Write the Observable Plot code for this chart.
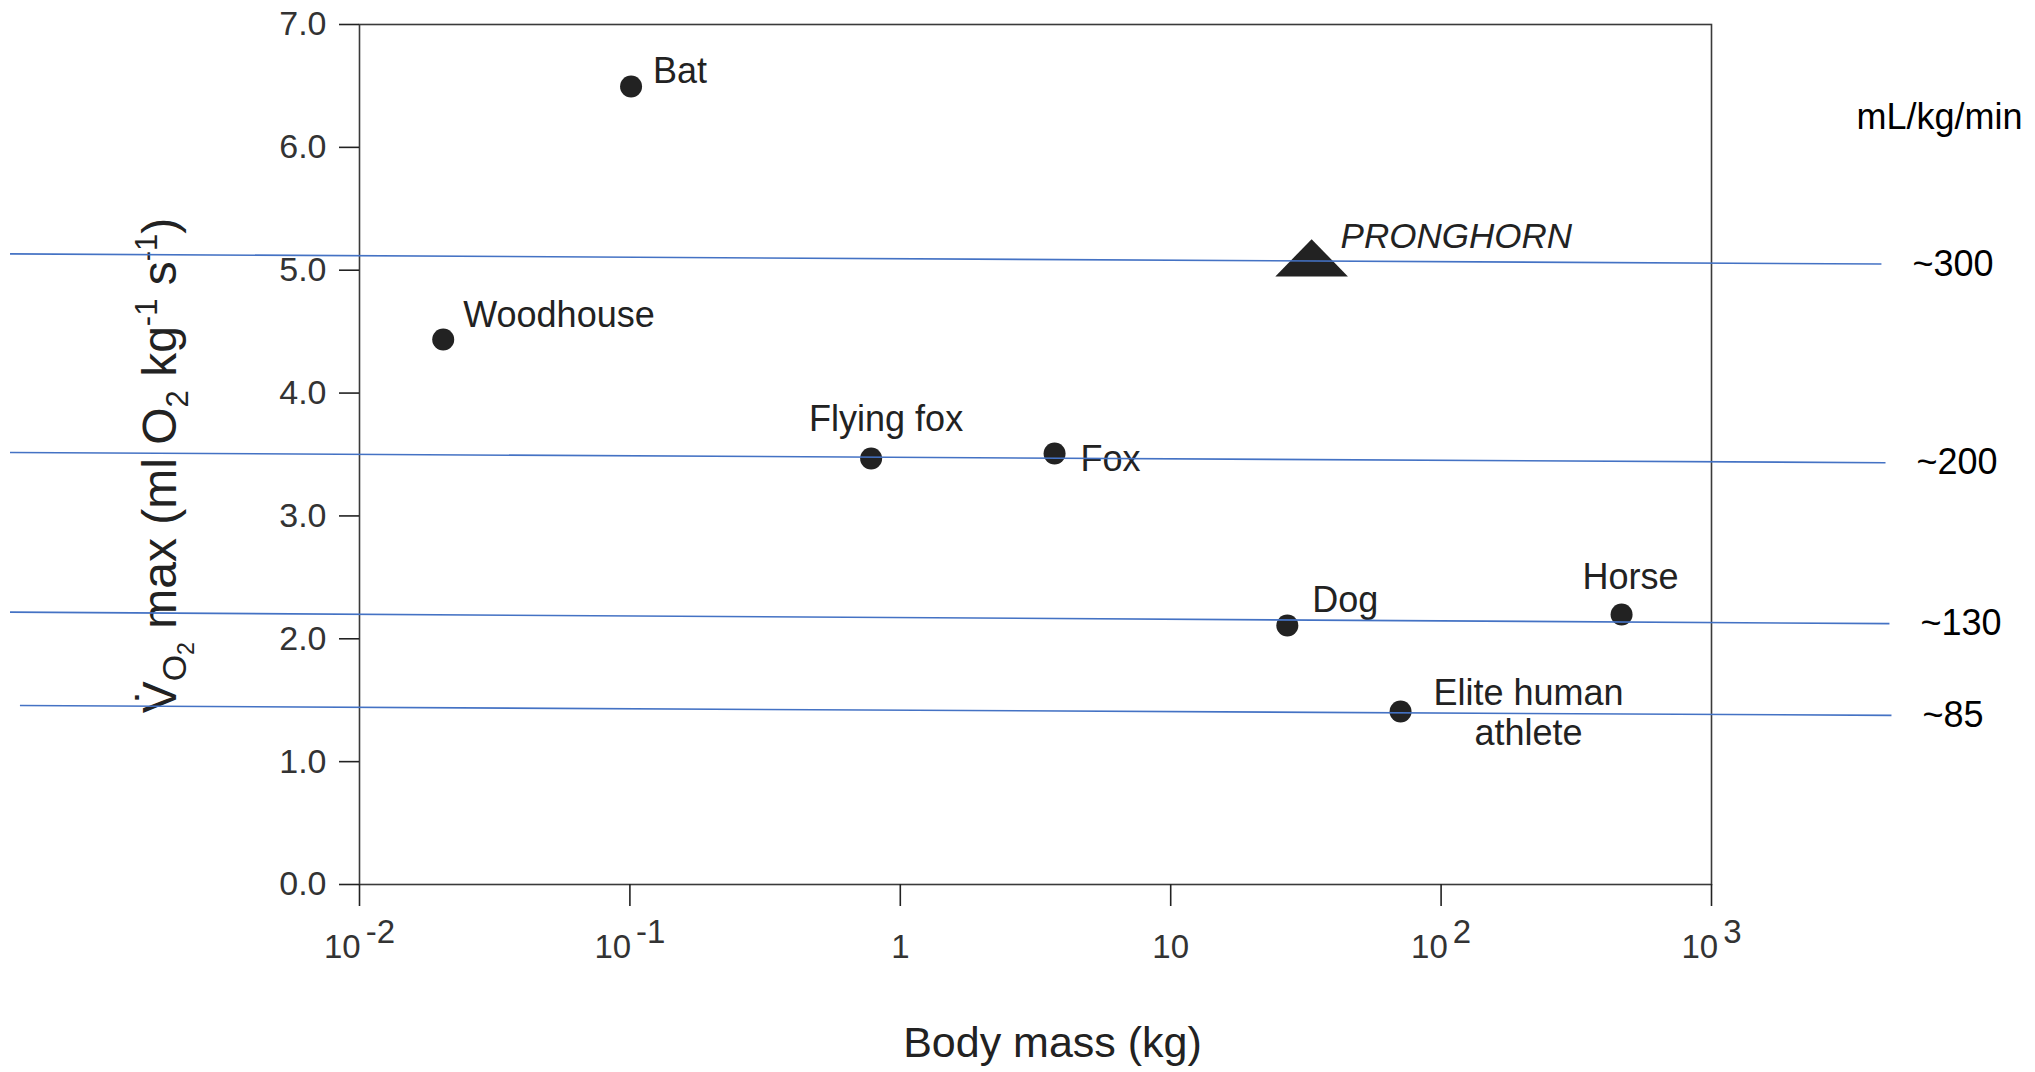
<!DOCTYPE html>
<html>
<head>
<meta charset="utf-8">
<script src="https://cdn.jsdelivr.net/npm/d3@7"></script>
<script src="https://cdn.jsdelivr.net/npm/@observablehq/plot@0.6"></script>
<style>
  html, body { margin: 0; padding: 0; background: #fff; }
  #chart svg { display: block; }
</style>
</head>
<body>
<div id="chart"></div>
<script>
// Maximal oxygen uptake (VO2 max) against body mass, log mass axis

// --- data -------------------------------------------------------------
const species = ["Bat", "Woodhouse", "Flying fox", "Fox", "Dog", "Horse", "Elite human\nathlete"];
const bodyMassKg = [0.101, 0.0204, 0.78, 3.72, 27.0, 465, 70.8];
const vo2maxMlKgS = [6.495, 4.436, 3.467, 3.508, 2.108, 2.198, 1.408];

const pronghornName = "PRONGHORN";
const pronghornMassKg = 33.2;
const pronghornVo2max = 5.05;

const massTicks = [0.01, 0.1, 1, 10, 100, 1000];
const massTickLabels = ["10^-2", "10^-1", "1", "10", "10^2", "10^3"];
const vo2Ticks = [0, 1, 2, 3, 4, 5, 6, 7];

// Hand-drawn reference levels, in mL/kg/min, with the mass span they cover
const refLabels = ["~300", "~200", "~130", "~85"];
const refStartPerMin = [308, 211, 133, 87.4];
const refEndPerMin = [303, 206, 127.4, 82.6];
const refStartMass = [5.1e-4, 5.1e-4, 5.1e-4, 5.55e-4];
const refEndMass = [4250, 4400, 4550, 4630];
const refUnit = "mL/kg/min";

const xLabel = "Body mass (kg)";
const yLabelKey = "VO2 max (ml O2 kg-1 s-1)";

// --- tables built from the arrays -------------------------------------
const animals = species.map((name, i) => ({name, mass: bodyMassKg[i], vo2: vo2maxMlKgS[i]}));
const pronghorn = [{name: pronghornName, mass: pronghornMassKg, vo2: pronghornVo2max}];
const refs = refLabels.map((label, i) => ({
  label,
  start: refStartPerMin[i] / 60,
  end: refEndPerMin[i] / 60,
  x1: refStartMass[i],
  x2: refEndMass[i]
}));

// --- styling ----------------------------------------------------------
const FONT = "'Liberation Sans', Arial, Helvetica, sans-serif";
const INK = "#222";
const BLUE = "#4472C4";

// label offsets (px) relative to each point
const labelPlacement = {
  "Bat": {textAnchor: "start", dx: 22, dy: -4},
  "Woodhouse": {textAnchor: "start", dx: 20, dy: -13},
  "Flying fox": {textAnchor: "middle", dx: 15, dy: -28},
  "Fox": {textAnchor: "start", dx: 26, dy: 17},
  "Dog": {textAnchor: "start", dx: 25, dy: -14},
  "Horse": {textAnchor: "middle", dx: 9, dy: -25},
  "Elite human\nathlete": {textAnchor: "middle", dx: 128, dy: 33}
};

// flattened triangle marker
const wideTriangle = {
  draw(context, size) {
    const r = Math.sqrt(size / Math.PI);
    const hw = r * 3.3, h = r * 3.4;
    context.moveTo(0, -h * 2 / 3);
    context.lineTo(hw, h / 3);
    context.lineTo(-hw, h / 3);
    context.closePath();
  }
};

const labelMarks = animals.map(d => {
  const p = labelPlacement[d.name];
  return Plot.text([d], {
    x: "mass", y: "vo2", text: "name",
    textAnchor: p.textAnchor, lineAnchor: "bottom", lineHeight: 1.1,
    dx: p.dx, dy: p.dy, fontSize: 36, fill: INK
  });
});

const chart = Plot.plot({
  width: 2035,
  height: 1072,
  marginLeft: 359,
  marginRight: 324,
  marginTop: 24,
  marginBottom: 188,
  style: {fontFamily: FONT, color: INK, background: "#fff", overflow: "visible"},
  x: {type: "log", domain: [0.01, 1000]},
  y: {domain: [0, 7]},
  marks: [
    Plot.frame({stroke: "#3a3a3a", strokeWidth: 1.6}),
    Plot.axisY({
      ticks: vo2Ticks, tickFormat: d3.format(".1f"),
      tickSize: 20, tickPadding: 13, fontSize: 34, label: null,
      stroke: INK, strokeWidth: 1.6, fill: "#333"
    }),
    Plot.axisX({
      ticks: massTicks, tickFormat: d => massTickLabels[massTicks.indexOf(d)],
      tickSize: 22, tickPadding: 28, fontSize: 33, label: null,
      stroke: INK, strokeWidth: 1.6, fill: "#333"
    }),
    Plot.text([xLabel], {
      text: d => d, frameAnchor: "bottom", lineAnchor: "bottom",
      dx: 17, dy: 172, fontSize: 43, fill: INK
    }),
    Plot.text([yLabelKey], {
      text: d => d, frameAnchor: "left", rotate: -90,
      textAnchor: "middle", lineAnchor: "bottom",
      dx: -184, dy: 11, fontSize: 48, fill: INK
    }),
    Plot.dot(animals, {x: "mass", y: "vo2", r: 11, fill: INK, stroke: "none"}),
    Plot.dot(pronghorn, {x: "mass", y: "vo2", r: 11, symbol: wideTriangle, fill: INK, stroke: "none"}),
    ...labelMarks,
    Plot.text(pronghorn, {
      x: "mass", y: "vo2", text: "name", textAnchor: "start", lineAnchor: "bottom",
      dx: 29, dy: -16, fontSize: 35, fontStyle: "italic", fill: INK
    }),
    Plot.link(refs, {x1: "x1", x2: "x2", y1: "start", y2: "end", stroke: BLUE, strokeWidth: 1.6}),
    Plot.text(refs, {
      x: "x2", y: "end", text: "label", textAnchor: "start", lineAnchor: "middle",
      dx: 31, fontSize: 36, fill: "#000"
    }),
    Plot.text([refUnit], {
      text: d => d, frameAnchor: "top-right", textAnchor: "middle", lineAnchor: "bottom",
      dx: 228, dy: 104, fontSize: 36, fill: "#000"
    })
  ]
});

document.getElementById("chart").appendChild(chart);

// Superscript exponents on the mass tick labels (10^-2 -> 10 with raised -2)
d3.select(chart).selectAll("text").each(function () {
  const s = this.textContent;
  if (!/^10\^/.test(s)) return;
  const parts = s.split("^");
  const t = d3.select(this).text(null);
  t.append("tspan").text(parts[0]);
  t.append("tspan").attr("dx", "0.15em").attr("dy", "-0.45em").text(parts[1]);
});

// Axis title with sub- and superscripts
d3.select(chart).selectAll("text").filter(function () {
  return this.textContent === yLabelKey;
}).each(function () {
  const t = d3.select(this).text(null);
  const pieces = [
    ["V\u0307", 48, 0],
    ["O", 34, 10],
    ["2", 23, 8],
    [" max (ml O", 48, -18],
    ["2", 31, 12],
    [" kg", 48, -12],
    ["-1", 31, -19],
    [" s", 48, 19],
    ["-1", 31, -19],
    [")", 48, 19]
  ];
  for (const [txt, size, shift] of pieces) {
    const sp = t.append("tspan").attr("font-size", size).text(txt);
    if (shift) sp.attr("dy", shift);
  }
});
</script>
</body>
</html>
